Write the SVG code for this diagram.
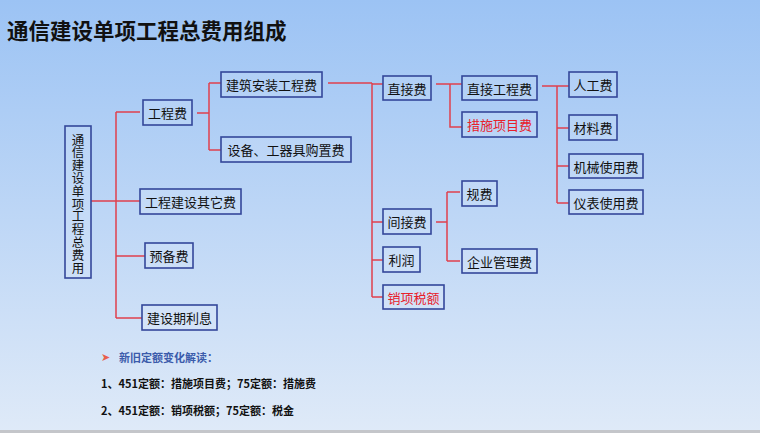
<svg xmlns="http://www.w3.org/2000/svg" width="760" height="433" viewBox="0 0 760 433">
<defs>
<linearGradient id="bg" x1="0" y1="0" x2="0" y2="1">
<stop offset="0" stop-color="#9cc3f4"/>
<stop offset="1" stop-color="#dfeaf8"/>
</linearGradient>
</defs>
<style>
.box{fill:#ffffff;fill-opacity:0.12;stroke:#34479a;stroke-width:1.6}
.t{font-family:"Noto Sans CJK SC","Noto Sans",sans-serif;font-size:13px;fill:#111;text-anchor:middle;dominant-baseline:central}
.red{fill:#e8202a}
.c{fill:none;stroke:#e0404e;stroke-width:1.5}
.n{font-family:"Noto Sans CJK SC","Noto Sans",sans-serif;font-size:11px;font-weight:bold;fill:#111;dominant-baseline:central}
</style>
<rect width="760" height="433" fill="url(#bg)"/>
<rect x="0" y="430" width="760" height="3" fill="#c4c6ca"/>
<text x="7" y="29" font-family="'Noto Sans CJK SC','Noto Sans',sans-serif" font-size="21.5" font-weight="bold" fill="#111" dominant-baseline="central">通信建设单项工程总费用组成</text>

<g id="connectors">
<path class="c" d="M91 201H116M116 112V318M116 112H140M116 201H140M116 256H145M116 318H142"/>
<path class="c" d="M197 113H209M209 83V150M209 83H221M209 150H221"/>
<path class="c" d="M328 83H372M372 83V297M372 84H383M372 222H383M372 260H383M372 297H383"/>
<path class="c" d="M436 84H462M450 84V127H462"/>
<path class="c" d="M542 86H569M557 86V203M557 128H569M557 166H569M557 203H569"/>
<path class="c" d="M436 222H447M447 192V261M447 192H460M447 261H460"/>
</g>

<g id="root"><rect class="box" x="65" y="126" width="26" height="152"/>
<text x="78" y="204" font-family="'Noto Sans CJK SC','Noto Sans',sans-serif" font-size="12.5" fill="#111" text-anchor="middle" writing-mode="vertical-rl" style="text-orientation:upright;letter-spacing:0.3px">通信建设单项工程总费用</text></g>
<g id="gcf"><rect class="box" x="143" y="100" width="49" height="25"/><text class="t" x="167.5" y="112.5">工程费</text></g>
<g id="jzaz"><rect class="box" x="221" y="72" width="101" height="25"/><text class="t" x="271.5" y="84.5">建筑安装工程费</text></g>
<g id="sbgj"><rect class="box" x="221" y="137" width="130" height="25"/><text class="t" x="286" y="149.5">设备、工器具购置费</text></g>
<g id="qtf"><rect class="box" x="140" y="189" width="101" height="25"/><text class="t" x="190.5" y="201.5">工程建设其它费</text></g>
<g id="ybf"><rect class="box" x="145" y="243" width="48" height="25"/><text class="t" x="169" y="255.5">预备费</text></g>
<g id="jsq"><rect class="box" x="142" y="305" width="75" height="25"/><text class="t" x="179.5" y="317.5">建设期利息</text></g>

<g id="zjf"><rect class="box" x="383" y="76" width="48" height="24"/><text class="t" x="407" y="88">直接费</text></g>
<g id="zjgc"><rect class="box" x="462" y="76" width="75" height="24"/><text class="t" x="499.5" y="88">直接工程费</text></g>
<g id="csxm"><rect class="box" x="462" y="112" width="75" height="25"/><text class="t red" x="499.5" y="124.5">措施项目费</text></g>
<g id="rgf"><rect class="box" x="569" y="72" width="48" height="25"/><text class="t" x="593" y="84.5">人工费</text></g>
<g id="clf"><rect class="box" x="569" y="115" width="48" height="25"/><text class="t" x="593" y="127.5">材料费</text></g>
<g id="jxsy"><rect class="box" x="569" y="154" width="74" height="24"/><text class="t" x="606" y="166">机械使用费</text></g>
<g id="ybsy"><rect class="box" x="569" y="190" width="74" height="24"/><text class="t" x="606" y="202">仪表使用费</text></g>
<g id="gf"><rect class="box" x="462" y="181" width="35" height="25"/><text class="t" x="479.5" y="193.5">规费</text></g>
<g id="qygl"><rect class="box" x="462" y="249" width="75" height="24"/><text class="t" x="499.5" y="261">企业管理费</text></g>
<g id="jjf"><rect class="box" x="383" y="209" width="48" height="25"/><text class="t" x="407" y="221.5">间接费</text></g>
<g id="lr"><rect class="box" x="383" y="247" width="37" height="25"/><text class="t" x="401.5" y="259.5">利润</text></g>
<g id="xxse"><rect class="box" x="383" y="285" width="61" height="24"/><text class="t red" x="413.5" y="297">销项税额</text></g>

<g id="notes">
<text x="101" y="357" font-family="'DejaVu Sans',sans-serif" font-size="11" fill="#e8604c" dominant-baseline="central">➤</text>
<text class="n" x="119" y="357" style="fill:#3b5bab">新旧定额变化解读：</text>
<text class="n" x="101" y="382.5">1、451定额：措施项目费；75定额：措施费</text>
<text class="n" x="101" y="410">2、451定额：销项税额；75定额：税金</text>
</g>
</svg>
